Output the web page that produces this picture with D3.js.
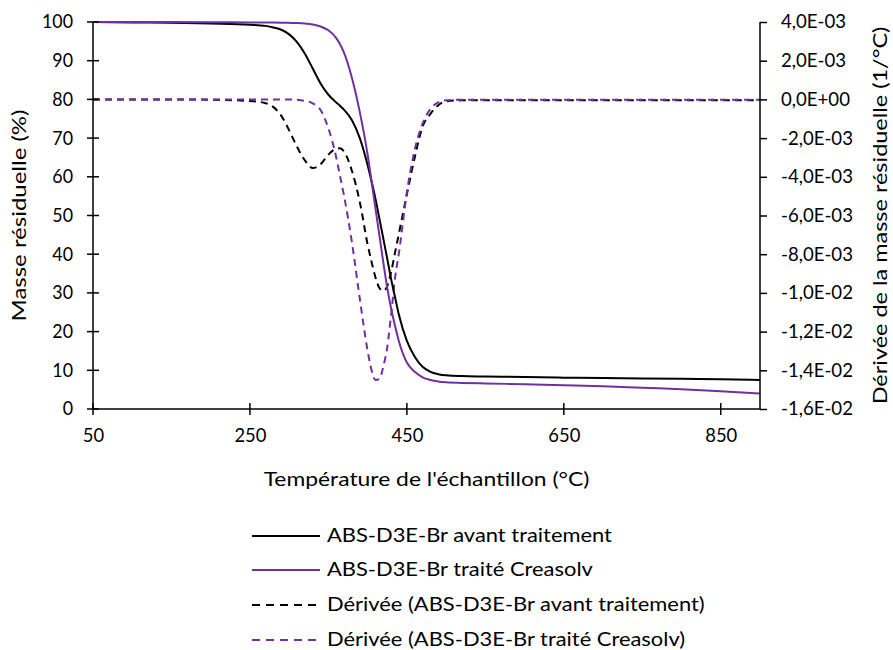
<!DOCTYPE html>
<html>
<head>
<meta charset="utf-8">
<script src="https://cdn.jsdelivr.net/npm/d3@7"></script>
<style>
  html, body { margin: 0; padding: 0; background: #fff; }
  svg { display: block; }
  text { font-family: Lato, "Open Sans", sans-serif; fill: #000; }
</style>
</head>
<body>
<svg id="chart" width="893" height="650"></svg>
<script>
// ---- Data ----
const temperature = [50,100,150,200,250,270,280,290,300,310,320,330,340,350,360,365,370,380,390,400,405,410,415,420,425,430,435,440,450,460,470,480,490,500,520,550,600,650,700,750,800,850,900];
const massAvant   = [100,99.9,99.8,99.6,99.3,99.0,98.6,98.0,96.8,94.8,91.8,88.0,84.1,81.2,79.2,78.3,77.3,74.6,70.0,63.0,58.8,54.3,49.2,44.0,38.8,33.5,28.8,24.2,17.6,13.5,10.9,9.6,9.0,8.7,8.5,8.4,8.25,8.1,8.0,7.9,7.8,7.7,7.5];
const massTraite  = [100,100,100,99.95,99.9,99.88,99.85,99.82,99.78,99.72,99.6,99.35,98.85,97.85,95.85,94.2,92.0,85.5,76.7,65.7,58.8,51.8,44.8,37.8,31.3,25.9,21.4,17.4,12.0,9.6,8.2,7.5,7.1,6.9,6.75,6.6,6.4,6.15,5.9,5.5,5.1,4.6,4.0];
// derivatives, in units of 1e-3 1/°C
const derivAvant  = [0,0,0,-0.02,-0.08,-0.2,-0.4,-0.85,-1.6,-2.45,-3.15,-3.55,-3.35,-2.85,-2.55,-2.53,-2.7,-3.7,-5.3,-7.5,-8.4,-9.2,-9.75,-9.9,-9.65,-8.9,-7.9,-6.9,-4.9,-3.0,-1.4,-0.75,-0.3,-0.1,-0.05,-0.05,-0.05,-0.05,-0.05,-0.05,-0.05,-0.05,-0.05];
const derivTraite = [0,0,0,0,0,0,0,0,0,-0.02,-0.08,-0.2,-0.55,-1.5,-3.0,-4.0,-5.0,-7.4,-10.3,-13.0,-14.0,-14.5,-14.45,-13.8,-12.8,-11.1,-9.2,-7.9,-4.8,-2.6,-1.25,-0.5,-0.15,-0.05,-0.02,-0.02,-0.02,-0.02,-0.02,-0.02,-0.02,-0.02,-0.02];

const xTicks = [50,250,450,650,850];
const leftTicks = [0,10,20,30,40,50,60,70,80,90,100];
const rightTicks = [0.004,0.002,0,-0.002,-0.004,-0.006,-0.008,-0.010,-0.012,-0.014,-0.016];

const seriesNames = [
  "ABS-D3E-Br avant traitement",
  "ABS-D3E-Br traité Creasolv",
  "Dérivée (ABS-D3E-Br avant traitement)",
  "Dérivée (ABS-D3E-Br traité Creasolv)"
];

const xTitle = "Température de l'échantillon (°C)";
const yLeftTitle = "Masse résiduelle (%)";
const yRightTitle = "Dérivée de la masse résiduelle (1/°C)";

// ---- Layout ----
const PURPLE = "#7030A0";
const plot = { left: 93, right: 760, top: 22, bottom: 409 };
const FS = 18.5;

const svg = d3.select("#chart");
svg.append("rect").attr("width", 893).attr("height", 650).attr("fill", "#fff");

const x = d3.scaleLinear().domain([50, 900]).range([plot.left, plot.right]);
const yL = d3.scaleLinear().domain([0, 100]).range([plot.bottom, plot.top]);
const yR = d3.scaleLinear().domain([-0.016, 0.004]).range([plot.bottom, plot.top]);

function fmtSci(v) {
  if (Math.abs(v) < 1e-12) return "0,0E+00";
  let s = v.toExponential(1);
  let [m, e] = s.split("e");
  let sign = e[0] === "-" ? "-" : "+";
  let digits = e.replace(/[+-]/, "");
  if (digits.length < 2) digits = "0" + digits;
  return m.replace(".", ",") + "E" + sign + digits;
}

svg.append("defs").append("clipPath").attr("id", "clip")
  .append("rect").attr("x", plot.left).attr("y", plot.top - 2)
  .attr("width", plot.right - plot.left).attr("height", plot.bottom - plot.top + 4);

// ---- Lines ----
const tg = temperature.map((t, i) => ({ t, a: massAvant[i], b: massTraite[i], da: derivAvant[i] / 1000, db: derivTraite[i] / 1000 }));
const lines = svg.append("g").attr("clip-path", "url(#clip)");
const mk = (acc, ys) => d3.line().x(d => x(d.t)).y(d => ys(acc(d))).curve(d3.curveMonotoneX);

lines.append("path").datum(tg).attr("d", mk(d => d.da, yR))
  .attr("fill", "none").attr("stroke", "#000").attr("stroke-width", 2).attr("stroke-dasharray", "7,5");
lines.append("path").datum(tg).attr("d", mk(d => d.db, yR))
  .attr("fill", "none").attr("stroke", PURPLE).attr("stroke-width", 2).attr("stroke-dasharray", "7,5");
lines.append("path").datum(tg).attr("d", mk(d => d.a, yL))
  .attr("fill", "none").attr("stroke", "#000").attr("stroke-width", 2);
lines.append("path").datum(tg).attr("d", mk(d => d.b, yL))
  .attr("fill", "none").attr("stroke", PURPLE).attr("stroke-width", 2);

// ---- Axes ----
const axStroke = 1.5;
const gx = svg.append("g").attr("transform", `translate(0,${plot.bottom})`)
  .call(d3.axisBottom(x).tickValues(xTicks).tickSize(0).tickPadding(20).tickFormat(d3.format("d")));
gx.select(".domain").remove();
svg.append("line").attr("x1", plot.left).attr("x2", plot.right).attr("y1", plot.bottom).attr("y2", plot.bottom)
  .attr("stroke", "#000").attr("stroke-width", axStroke);
svg.selectAll(".xtick").data(xTicks).join("line").attr("class", "xtick")
  .attr("x1", d => x(d)).attr("x2", d => x(d)).attr("y1", plot.bottom - 6).attr("y2", plot.bottom + 6)
  .attr("stroke", "#000").attr("stroke-width", axStroke);

const gl = svg.append("g").attr("transform", `translate(${plot.left},0)`)
  .call(d3.axisLeft(yL).tickValues(leftTicks).tickSize(0).tickPadding(20));
gl.select(".domain").remove();
svg.append("line").attr("x1", plot.left).attr("x2", plot.left).attr("y1", plot.top).attr("y2", plot.bottom)
  .attr("stroke", "#000").attr("stroke-width", axStroke);
svg.selectAll(".ltick").data(leftTicks).join("line").attr("class", "ltick")
  .attr("x1", plot.left - 6).attr("x2", plot.left + 6).attr("y1", d => yL(d)).attr("y2", d => yL(d))
  .attr("stroke", "#000").attr("stroke-width", axStroke);

const gr = svg.append("g").attr("transform", `translate(${plot.right},0)`)
  .call(d3.axisRight(yR).tickValues(rightTicks).tickSize(7).tickPadding(14).tickFormat(fmtSci));
gr.select(".domain").attr("stroke-width", axStroke).attr("d", `M0,${plot.top}V${plot.bottom}`);
gr.selectAll("line").attr("stroke-width", axStroke);

[gx, gl, gr].forEach(g => g.selectAll("text").attr("font-size", FS).attr("font-family", null));

// ---- Titles ----
const xt = svg.append("text").attr("x", (plot.left + plot.right) / 2).attr("y", 486)
  .attr("text-anchor", "middle").attr("font-size", FS).text(xTitle);
const lt = svg.append("text").attr("transform", `translate(26,${(plot.top + plot.bottom) / 2}) rotate(-90)`)
  .attr("text-anchor", "middle").attr("font-size", FS).text(yLeftTitle);
const rt = svg.append("text").attr("transform", `translate(887,${(plot.top + plot.bottom) / 2}) rotate(-90)`)
  .attr("text-anchor", "middle").attr("font-size", FS).text(yRightTitle);

// ---- Legend ----
const legStyles = [
  { c: "#000", dash: null },
  { c: PURPLE, dash: null },
  { c: "#000", dash: "8,6" },
  { c: PURPLE, dash: "8,6" }
];
const legY = [536, 570, 605, 640];
const leg = svg.append("g");
seriesNames.forEach((name, i) => {
  leg.append("line").attr("x1", 252).attr("x2", 320).attr("y1", legY[i]).attr("y2", legY[i])
    .attr("stroke", legStyles[i].c).attr("stroke-width", 2)
    .attr("stroke-dasharray", legStyles[i].dash);
  leg.append("text").attr("x", 327).attr("y", legY[i]).attr("dy", "0.35em")
    .attr("font-size", FS).text(name);
});

// ---- widen each text group along its baseline to match the reference's wider face ----
function widen(sel, refNode, target) {
  const w = refNode.getComputedTextLength();
  const s = Math.max(0.8, Math.min(1.5, target / w));
  sel.each(function () {
    const t = d3.select(this);
    const tr = t.attr("transform");
    const px = +t.attr("x") || 0, py = +t.attr("y") || 0;
    const base = tr ? tr + " " : "";
    t.attr("x", 0).attr("y", 0).attr("transform", `${base}translate(${px},${py}) scale(${s},1)`);
  });
}
const pick = (g, str) => g.selectAll("text").filter(function () { return this.textContent === str; }).node();
widen(xt, xt.node(), 326);
widen(lt, lt.node(), 212);
widen(rt, rt.node(), 378);
widen(leg.selectAll("text"), leg.selectAll("text").nodes()[2], 378);
widen(gl.selectAll("text"), pick(gl, "100"), 31);
widen(gx.selectAll("text"), pick(gx, "850"), 32);
widen(gr.selectAll("text"), pick(gr, "-1,6E-02"), 72);
</script>
</body>
</html>
